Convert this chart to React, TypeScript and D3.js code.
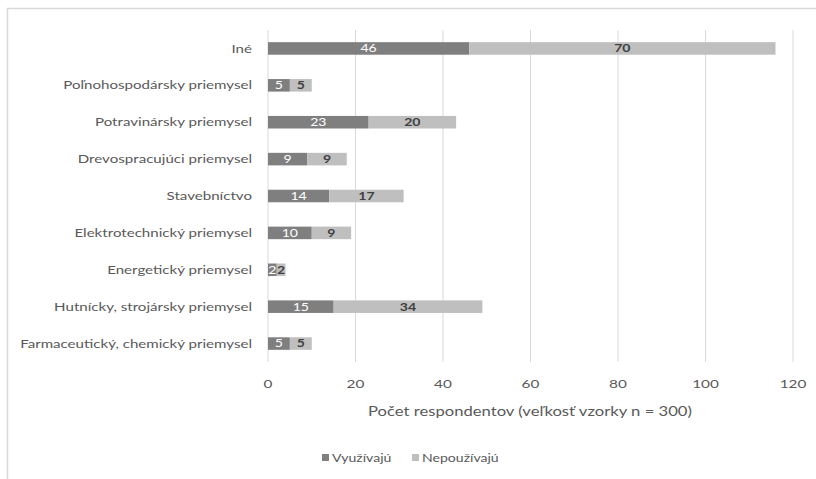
import React from "react";
import * as d3 from "d3";

const categories = [
  "Iné",
  "Poľnohospodársky priemysel",
  "Potravinársky priemysel",
  "Drevospracujúci priemysel",
  "Stavebníctvo",
  "Elektrotechnický priemysel",
  "Energetický priemysel",
  "Hutnícky, strojársky priemysel",
  "Farmaceutický, chemický priemysel",
];
const vyuzivaju = [46, 5, 23, 9, 14, 10, 2, 15, 5];
const nepouzivaju = [70, 5, 20, 9, 17, 9, 2, 34, 5];
const xTicks = [0, 20, 40, 60, 80, 100, 120];
const seriesNames = ["Využívajú", "Nepoužívajú"];

const W = 816;
const H = 479;
const FONT = "Lato, 'Open Sans', sans-serif";
const DARK = "#7f7f7f";
const LIGHT = "#bfbfbf";
const STRETCH = 1.28;

type TProps = {
  x: number;
  y: number;
  size: number;
  anchor?: "start" | "middle" | "end";
  fill?: string;
  bold?: boolean;
  children: React.ReactNode;
};

// Text with a slightly widened glyph shape
function T({ x, y, size, anchor = "start", fill = "#595959", bold, children }: TProps) {
  return (
    <text
      transform={`translate(${x},${y}) scale(${STRETCH},1)`}
      dy="0.35em"
      textAnchor={anchor}
      fontSize={size}
      fontWeight={bold ? "bold" : "normal"}
      fill={fill}
      fontFamily={FONT}
    >
      {children}
    </text>
  );
}

export default function App() {
  const x = d3.scaleLinear().domain([0, 120]).range([268, 793]);
  const y = d3.scaleBand<string>().domain(categories).range([30, 362]).paddingInner(0.66).paddingOuter(0.33);

  const rows = categories.map((c, i) => ({ c, a: vyuzivaju[i], b: nepouzivaju[i] }));

  return (
    <svg width={W} height={H} style={{ position: "absolute", left: 0, top: 0, background: "#fff" }}>
      <rect x={7.5} y={8.5} width={W + 10} height={H + 10} fill="#fff" stroke="#d9d9d9" strokeWidth={1.5} />
      {xTicks.map((t) => (
        <line key={t} x1={x(t)} x2={x(t)} y1={30} y2={362} stroke="#d9d9d9" strokeWidth={1} />
      ))}
      {rows.map((r) => {
        const y0 = y(r.c)!;
        const bh = y.bandwidth();
        const cy = y0 + bh / 2;
        return (
          <g key={r.c}>
            <rect x={x(0)} y={y0} width={x(r.a) - x(0)} height={bh} fill={DARK} />
            <rect x={x(r.a)} y={y0} width={x(r.a + r.b) - x(r.a)} height={bh} fill={LIGHT} />
            <T x={(x(0) + x(r.a)) / 2} y={cy} size={11} anchor="middle" fill="#ffffff">
              {r.a}
            </T>
            <T x={(x(r.a) + x(r.a + r.b)) / 2} y={cy} size={11} anchor="middle" fill="#404040" bold>
              {r.b}
            </T>
            <T x={252} y={cy} size={11.8} anchor="end">
              {r.c}
            </T>
          </g>
        );
      })}
      {xTicks.map((t) => (
        <T key={"t" + t} x={x(t)} y={384} size={12} anchor="middle">
          {t}
        </T>
      ))}
      <T x={530} y={411} size={13} anchor="middle">
        Počet respondentov (veľkosť vzorky n = 300)
      </T>
      {seriesNames.map((s, i) => {
        const lx = i === 0 ? 322 : 412;
        return (
          <g key={s}>
            <rect x={lx} y={454} width={7} height={7} fill={i === 0 ? DARK : LIGHT} />
            <T x={lx + 10} y={458} size={11}>
              {s}
            </T>
          </g>
        );
      })}
    </svg>
  );
}
